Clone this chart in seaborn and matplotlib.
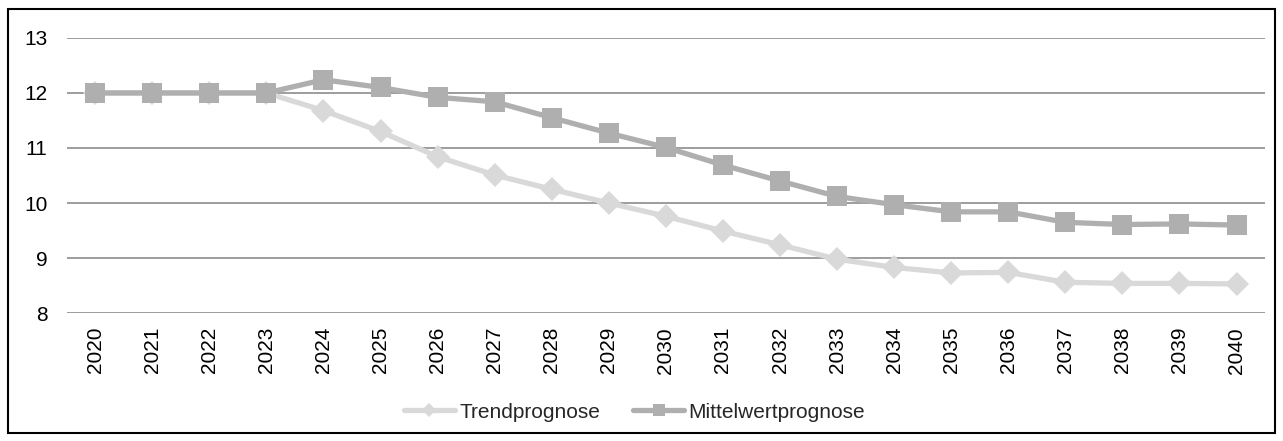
import pandas as pd
import matplotlib.pyplot as plt
import seaborn as sns
from matplotlib.patches import Rectangle

years = list(range(2020, 2041))
trend = [12.0, 12.0, 12.0, 12.0, 11.68, 11.3, 10.84, 10.51, 10.25, 10.0, 9.76,
         9.49, 9.24, 8.98, 8.83, 8.73, 8.74, 8.56, 8.54, 8.54, 8.53]
mittel = [12.0, 12.0, 12.0, 12.0, 12.24, 12.1, 11.92, 11.84, 11.55, 11.27, 11.01,
          10.69, 10.4, 10.12, 9.97, 9.84, 9.84, 9.65, 9.61, 9.62, 9.6]

df = pd.DataFrame({"Jahr": years, "Trendprognose": trend, "Mittelwertprognose": mittel})

sns.set_style("white")
plt.rcParams["font.family"] = ["Liberation Sans", "DejaVu Sans"]

fig = plt.figure(figsize=(12.83, 4.41), dpi=100)
ax = fig.add_axes([0.052, 0.29, 0.934, 0.624])

sns.lineplot(data=df, x="Jahr", y="Trendprognose", ax=ax,
             color="#d9d9d9", linewidth=3.8, marker="D", markersize=12,
             markeredgewidth=0, label="Trendprognose", zorder=2)
sns.lineplot(data=df, x="Jahr", y="Mittelwertprognose", ax=ax,
             color="#afafaf", linewidth=3.8, marker="s", markersize=14.5,
             markeredgewidth=0, label="Mittelwertprognose", zorder=3)

ax.set_ylim(8, 13)
ax.set_yticks([8, 9, 10, 11, 12, 13])
ax.set_xlim(2019.5, 2040.5)
ax.set_xticks(years)
ax.set_xticklabels([str(y) for y in years], rotation=90)
ax.tick_params(axis="both", length=0, labelsize=15, colors="black")
ax.tick_params(axis="y", pad=14)
ax.tick_params(axis="x", pad=10)
ax.set_xlabel("")
ax.set_ylabel("")
ax.grid(axis="y", color="#8c8c8c", linewidth=1.2)
ax.set_axisbelow(True)
sns.despine(ax=ax, left=True, bottom=True)

handles, labels = ax.get_legend_handles_labels()
ax.get_legend().remove()
fig.legend(handles, labels, loc="center", bbox_to_anchor=(0.4945, 1 - 412 / 441),
           ncol=2, frameon=False, fontsize=15, handlelength=2.45,
           columnspacing=1.6, handletextpad=0.2, markerscale=0.6)

fig.patches.append(Rectangle((0.006, 0.018), 0.988, 0.962, transform=fig.transFigure,
                             fill=False, edgecolor="black", linewidth=1.5))

plt.savefig("out.png", dpi=100)
